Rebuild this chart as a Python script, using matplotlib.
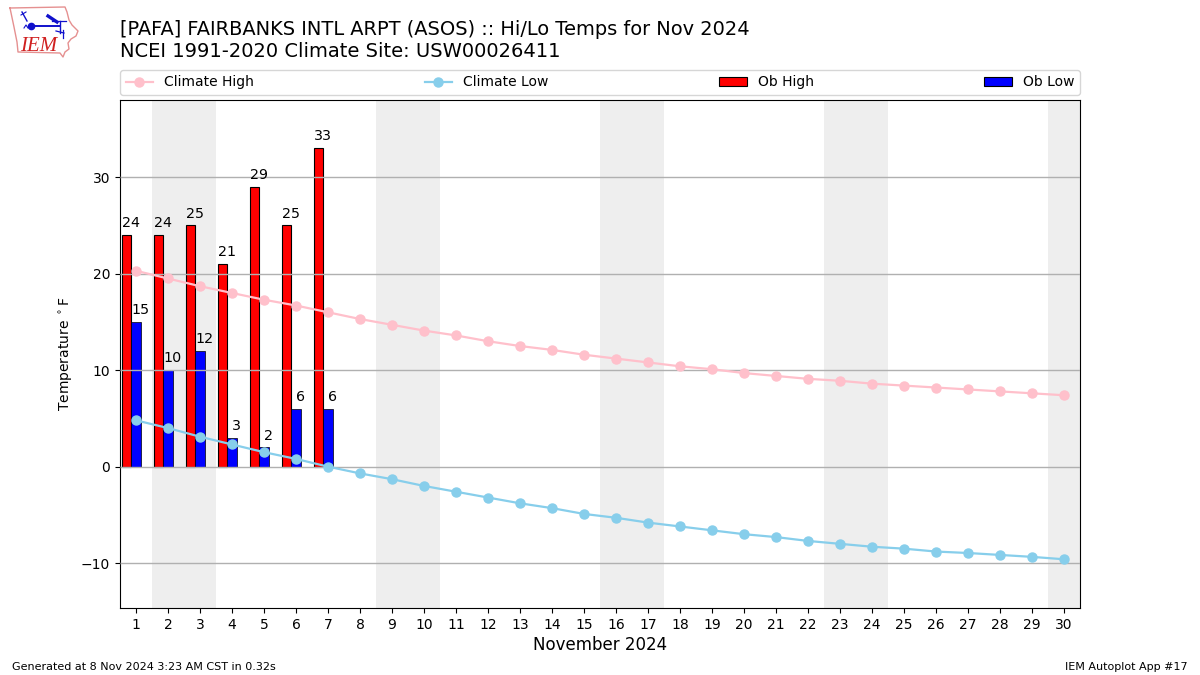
import matplotlib
matplotlib.use("Agg")
import matplotlib.pyplot as plt
import numpy as np

days = list(range(1, 31))
ob_days = [1, 2, 3, 4, 5, 6, 7]
ob_high = [24, 24, 25, 21, 29, 25, 33]
ob_low = [15, 10, 12, 3, 2, 6, 6]
climate_high = [20.3, 19.5, 18.7, 18.0, 17.3, 16.7, 16.0, 15.3, 14.7, 14.1,
                13.6, 13.0, 12.5, 12.1, 11.6, 11.2, 10.8, 10.4, 10.1, 9.7,
                9.4, 9.1, 8.9, 8.6, 8.4, 8.2, 8.0, 7.8, 7.6, 7.4]
climate_low = [4.8, 4.0, 3.1, 2.3, 1.5, 0.8, 0.0, -0.7, -1.3, -2.0,
               -2.6, -3.2, -3.8, -4.3, -4.9, -5.3, -5.8, -6.2, -6.6, -7.0,
               -7.3, -7.7, -8.0, -8.3, -8.5, -8.8, -8.95, -9.15, -9.35, -9.6]
weekend_spans = [(1.5, 3.5), (8.5, 10.5), (15.5, 17.5), (22.5, 24.5), (29.5, 30.5)]

W, H = 1200, 675
fig = plt.figure(figsize=(12, 6.75), dpi=100)
ax = fig.add_axes([120 / W, 1 - 608 / H, 960 / W, 508 / H])

for a, b in weekend_spans:
    ax.axvspan(a, b, color="#eeeeee", lw=0, zorder=0)

h_bars = ax.bar(np.array(ob_days) - 0.3, ob_high, width=0.3, color="red",
                edgecolor="black", linewidth=0.8, zorder=2, label="Ob High")
l_bars = ax.bar(np.array(ob_days), ob_low, width=0.3, color="blue",
                edgecolor="black", linewidth=0.5, zorder=2, label="Ob Low")
ax.yaxis.grid(True, color="#b0b0b0", lw=1, zorder=3)
ax.set_axisbelow(False)
ax.xaxis.grid(False)

l1, = ax.plot(days, climate_high, color="pink", marker="o", ms=6.5, lw=1.6,
              zorder=4, label="Climate High")
l2, = ax.plot(days, climate_low, color="skyblue", marker="o", ms=6.5, lw=1.6,
              zorder=4, label="Climate Low")

for d, v in zip(ob_days, ob_high):
    ax.text(d - 0.15, v + 0.5, str(v), ha="center", va="bottom", fontsize=10.3, zorder=5)
for d, v in zip(ob_days, ob_low):
    ax.text(d + 0.15, v + 0.5, str(v), ha="center", va="bottom", fontsize=10.3, zorder=5)

ax.set_xlim(0.5, 30.5)
ax.set_ylim(-14.65, 38.0)
ax.set_xticks(days)
ax.set_yticks([-10, 0, 10, 20, 30])
ax.set_yticklabels(["\u221210", "0", "10", "20", "30"])
ax.tick_params(labelsize=10)
ax.set_ylabel(r"Temperature $^\circ$F", fontsize=10)
ax.set_xlabel("November 2024", fontsize=12, labelpad=3)

ax.legend(handles=[l1, l2, h_bars, l_bars], ncol=4, mode="expand",
          loc="lower left", bbox_to_anchor=(0, 1.0, 1, 0.1), borderaxespad=0,
          fontsize=10, frameon=True)
leg = ax.get_legend()
leg.set_bbox_to_anchor((0, 1.0 + 5 / 508, 1, 0.1), transform=ax.transAxes)
for p in leg.get_patches():
    p.set_edgecolor("black")
    p.set_linewidth(0.8)

fig.text(120 / W, 1 - 35 / H, "[PAFA] FAIRBANKS INTL ARPT (ASOS) :: Hi/Lo Temps for Nov 2024",
         fontsize=13.95, va="baseline")
fig.text(120 / W, 1 - 57 / H, "NCEI 1991-2020 Climate Site: USW00026411",
         fontsize=14, va="baseline")
fig.text(12 / W, 1 - 670 / H, "Generated at 8 Nov 2024 3:23 AM CST in 0.32s", fontsize=8, va="baseline")
fig.text(1188 / W, 1 - 670 / H, "IEM Autoplot App #17", fontsize=8, va="baseline", ha="right")

# logo, in pixel coordinates of the figure
logo = fig.add_axes([0, 1 - 60 / H, 80 / W, 60 / H])
logo.set_xlim(0, 80)
logo.set_ylim(60, 0)
logo.axis("off")
out_x = [10, 65, 67, 69, 72, 78, 76, 71, 68, 69, 65, 63, 60, 18, 17, 14, 10]
out_y = [8, 7, 12, 20, 25, 31, 36, 39, 43, 49, 52, 57, 53, 52, 42, 27, 8]
logo.plot(out_x, out_y, color="#e59090", lw=1.0)
logo.plot([31, 60], [26, 26], color="#1010cc", lw=1.4)
logo.plot([31], [26], "o", color="#1010cc", ms=4.5)
logo.plot([48, 57], [16, 22], color="#1010cc", lw=2.4)
logo.plot([52, 66], [21, 21], color="#1010cc", lw=0.9)
logo.plot([60, 60], [21, 33], color="#1010cc", lw=1)
logo.plot([22, 27], [12, 21], color="#1010cc", lw=1)
logo.plot([21, 26], [15, 12], color="#1010cc", lw=0.8)
logo.plot([56, 64], [31, 33], color="#1010cc", lw=0.9)
logo.plot([63, 63], [30, 38], color="#1010cc", lw=0.9)
logo.plot([24, 26, 28], [28, 25, 28], color="#1010cc", lw=0.8)
logo.text(20, 51, "IEM", color="#d02020", fontsize=15, family="Liberation Serif",
          style="italic", va="baseline")

fig.savefig("out.png", dpi=100)
